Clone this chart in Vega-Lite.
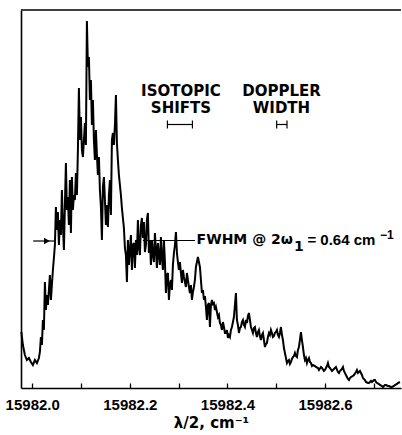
{
  "$schema": "https://vega.github.io/schema/vega-lite/v6.json",
  "width": 380,
  "height": 378,
  "autosize": "none",
  "padding": {"left": 21, "top": 10, "right": 1, "bottom": 47},
  "background": "white",
  "config": {"view": {"stroke": null}},
  "datasets": {
    "spectrum": [
      {"nu":15981.97781,"I":56},{"nu":15981.98088,"I":43},{"nu":15981.98498,"I":33},{"nu":15981.98908,"I":28},{"nu":15981.99318,"I":30},{"nu":15981.99728,"I":26},
      {"nu":15982.00137,"I":23},{"nu":15982.00547,"I":28},{"nu":15982.00957,"I":25},{"nu":15982.01367,"I":30},{"nu":15982.01572,"I":36},{"nu":15982.01777,"I":51},
      {"nu":15982.01982,"I":43},{"nu":15982.02187,"I":68},{"nu":15982.02392,"I":58},{"nu":15982.02597,"I":106},{"nu":15982.02802,"I":78},{"nu":15982.03006,"I":93},
      {"nu":15982.03211,"I":83},{"nu":15982.03416,"I":98},{"nu":15982.03621,"I":113},{"nu":15982.03826,"I":88},{"nu":15982.04031,"I":103},{"nu":15982.04236,"I":118},
      {"nu":15982.04441,"I":130},{"nu":15982.04646,"I":143},{"nu":15982.04851,"I":181},{"nu":15982.05055,"I":158},{"nu":15982.0526,"I":176},{"nu":15982.05465,"I":143},
      {"nu":15982.0567,"I":168},{"nu":15982.05875,"I":153},{"nu":15982.0608,"I":198},{"nu":15982.06285,"I":163},{"nu":15982.0649,"I":138},{"nu":15982.06695,"I":183},
      {"nu":15982.069,"I":225},{"nu":15982.07104,"I":178},{"nu":15982.07309,"I":191},{"nu":15982.07514,"I":163},{"nu":15982.07719,"I":208},{"nu":15982.07924,"I":155},
      {"nu":15982.08129,"I":211},{"nu":15982.08334,"I":178},{"nu":15982.08539,"I":193},{"nu":15982.08744,"I":188},{"nu":15982.08949,"I":215},{"nu":15982.09153,"I":193},
      {"nu":15982.09358,"I":238},{"nu":15982.09563,"I":300},{"nu":15982.09768,"I":248},{"nu":15982.09973,"I":271},{"nu":15982.10178,"I":238},{"nu":15982.10383,"I":231},
      {"nu":15982.10588,"I":248},{"nu":15982.10793,"I":265},{"nu":15982.10998,"I":243},{"nu":15982.11202,"I":367},{"nu":15982.11407,"I":321},{"nu":15982.11612,"I":331},
      {"nu":15982.11817,"I":288},{"nu":15982.12022,"I":308},{"nu":15982.12227,"I":263},{"nu":15982.12432,"I":288},{"nu":15982.12637,"I":248},{"nu":15982.12842,"I":228},
      {"nu":15982.13047,"I":258},{"nu":15982.13251,"I":233},{"nu":15982.13456,"I":213},{"nu":15982.13661,"I":231},{"nu":15982.13866,"I":198},{"nu":15982.14071,"I":181},
      {"nu":15982.14276,"I":148},{"nu":15982.14481,"I":201},{"nu":15982.14686,"I":211},{"nu":15982.14891,"I":188},{"nu":15982.15096,"I":163},{"nu":15982.153,"I":183},
      {"nu":15982.15505,"I":161},{"nu":15982.1571,"I":193},{"nu":15982.15915,"I":208},{"nu":15982.1612,"I":173},{"nu":15982.16325,"I":248},{"nu":15982.1653,"I":255},
      {"nu":15982.16735,"I":243},{"nu":15982.1694,"I":263},{"nu":15982.17145,"I":293},{"nu":15982.17349,"I":245},{"nu":15982.17554,"I":228},{"nu":15982.17759,"I":213},
      {"nu":15982.17964,"I":203},{"nu":15982.18169,"I":193},{"nu":15982.18374,"I":180},{"nu":15982.18579,"I":170},{"nu":15982.18784,"I":160},{"nu":15982.18989,"I":140},
      {"nu":15982.19194,"I":133},{"nu":15982.19398,"I":106},{"nu":15982.19603,"I":148},{"nu":15982.19808,"I":123},{"nu":15982.20013,"I":138},{"nu":15982.20218,"I":153},
      {"nu":15982.20423,"I":118},{"nu":15982.20628,"I":143},{"nu":15982.20833,"I":145},{"nu":15982.21038,"I":120},{"nu":15982.21243,"I":148},{"nu":15982.21447,"I":133},
      {"nu":15982.21652,"I":168},{"nu":15982.21857,"I":140},{"nu":15982.22062,"I":133},{"nu":15982.22267,"I":163},{"nu":15982.22472,"I":170},{"nu":15982.22677,"I":150},
      {"nu":15982.22882,"I":166},{"nu":15982.23087,"I":136},{"nu":15982.23292,"I":143},{"nu":15982.23496,"I":168},{"nu":15982.23701,"I":175},{"nu":15982.23906,"I":135},
      {"nu":15982.24111,"I":148},{"nu":15982.24316,"I":123},{"nu":15982.24521,"I":148},{"nu":15982.24726,"I":133},{"nu":15982.24931,"I":126},{"nu":15982.25136,"I":155},
      {"nu":15982.25341,"I":138},{"nu":15982.25545,"I":120},{"nu":15982.2575,"I":145},{"nu":15982.25955,"I":133},{"nu":15982.2616,"I":123},{"nu":15982.26365,"I":151},
      {"nu":15982.2657,"I":130},{"nu":15982.26775,"I":118},{"nu":15982.2698,"I":148},{"nu":15982.27185,"I":126},{"nu":15982.2739,"I":95},{"nu":15982.27594,"I":113},
      {"nu":15982.27799,"I":115},{"nu":15982.28004,"I":88},{"nu":15982.28209,"I":103},{"nu":15982.28414,"I":108},{"nu":15982.28619,"I":98},{"nu":15982.28824,"I":123},
      {"nu":15982.29029,"I":135},{"nu":15982.29234,"I":143},{"nu":15982.29439,"I":156},{"nu":15982.29643,"I":135},{"nu":15982.29848,"I":126},{"nu":15982.30053,"I":118},
      {"nu":15982.30258,"I":126},{"nu":15982.30463,"I":115},{"nu":15982.30668,"I":105},{"nu":15982.30873,"I":118},{"nu":15982.31078,"I":111},{"nu":15982.31283,"I":106},
      {"nu":15982.31488,"I":101},{"nu":15982.31692,"I":115},{"nu":15982.31897,"I":108},{"nu":15982.32102,"I":101},{"nu":15982.32307,"I":95},{"nu":15982.32512,"I":103},
      {"nu":15982.32717,"I":88},{"nu":15982.32922,"I":96},{"nu":15982.33127,"I":101},{"nu":15982.33332,"I":108},{"nu":15982.33537,"I":121},{"nu":15982.33741,"I":126},
      {"nu":15982.33946,"I":131},{"nu":15982.34151,"I":126},{"nu":15982.34356,"I":121},{"nu":15982.34561,"I":108},{"nu":15982.34766,"I":95},{"nu":15982.34971,"I":98},
      {"nu":15982.35176,"I":88},{"nu":15982.35381,"I":92},{"nu":15982.35586,"I":81},{"nu":15982.3579,"I":68},{"nu":15982.35995,"I":83},{"nu":15982.362,"I":85},
      {"nu":15982.36405,"I":61},{"nu":15982.3661,"I":83},{"nu":15982.36815,"I":88},{"nu":15982.3702,"I":84},{"nu":15982.37225,"I":85},{"nu":15982.3743,"I":78},
      {"nu":15982.37635,"I":81},{"nu":15982.37839,"I":76},{"nu":15982.38044,"I":71},{"nu":15982.38249,"I":73},{"nu":15982.38454,"I":65},{"nu":15982.38659,"I":63},
      {"nu":15982.38864,"I":58},{"nu":15982.39069,"I":66},{"nu":15982.39274,"I":61},{"nu":15982.39479,"I":55},{"nu":15982.39684,"I":55},{"nu":15982.39888,"I":58},
      {"nu":15982.40093,"I":50},{"nu":15982.40298,"I":53},{"nu":15982.40503,"I":51},{"nu":15982.40708,"I":58},{"nu":15982.40913,"I":61},{"nu":15982.41118,"I":66},
      {"nu":15982.41323,"I":71},{"nu":15982.41528,"I":83},{"nu":15982.41733,"I":95},{"nu":15982.41937,"I":68},{"nu":15982.42142,"I":63},{"nu":15982.42347,"I":55},
      {"nu":15982.42552,"I":60},{"nu":15982.42757,"I":61},{"nu":15982.42962,"I":66},{"nu":15982.43167,"I":68},{"nu":15982.43372,"I":63},{"nu":15982.43577,"I":61},
      {"nu":15982.43782,"I":68},{"nu":15982.43986,"I":65},{"nu":15982.44191,"I":72},{"nu":15982.44396,"I":75},{"nu":15982.44601,"I":68},{"nu":15982.44806,"I":61},
      {"nu":15982.45011,"I":58},{"nu":15982.45216,"I":55},{"nu":15982.45421,"I":60},{"nu":15982.45626,"I":61},{"nu":15982.45831,"I":55},{"nu":15982.46035,"I":51},
      {"nu":15982.4624,"I":56},{"nu":15982.46445,"I":58},{"nu":15982.4665,"I":52},{"nu":15982.46855,"I":48},{"nu":15982.4706,"I":53},{"nu":15982.47265,"I":55},
      {"nu":15982.4747,"I":48},{"nu":15982.47675,"I":41},{"nu":15982.4788,"I":44},{"nu":15982.48084,"I":45},{"nu":15982.48289,"I":51},{"nu":15982.48494,"I":55},
      {"nu":15982.48699,"I":53},{"nu":15982.48904,"I":58},{"nu":15982.49109,"I":55},{"nu":15982.49314,"I":51},{"nu":15982.49519,"I":52},{"nu":15982.49724,"I":55},
      {"nu":15982.49929,"I":56},{"nu":15982.50133,"I":58},{"nu":15982.50338,"I":53},{"nu":15982.50543,"I":51},{"nu":15982.50748,"I":55},{"nu":15982.50953,"I":61},
      {"nu":15982.51158,"I":53},{"nu":15982.51363,"I":48},{"nu":15982.51568,"I":40},{"nu":15982.51773,"I":35},{"nu":15982.51978,"I":30},{"nu":15982.52182,"I":25},
      {"nu":15982.52387,"I":27},{"nu":15982.52592,"I":28},{"nu":15982.52797,"I":24},{"nu":15982.53002,"I":26},{"nu":15982.53207,"I":29},{"nu":15982.53412,"I":31},
      {"nu":15982.53617,"I":32},{"nu":15982.53822,"I":35},{"nu":15982.54027,"I":32},{"nu":15982.54231,"I":31},{"nu":15982.54436,"I":38},{"nu":15982.54641,"I":41},
      {"nu":15982.54846,"I":48},{"nu":15982.55051,"I":56},{"nu":15982.55256,"I":48},{"nu":15982.55461,"I":41},{"nu":15982.55666,"I":33},{"nu":15982.55871,"I":28},
      {"nu":15982.56076,"I":30},{"nu":15982.5628,"I":25},{"nu":15982.56485,"I":28},{"nu":15982.5669,"I":30},{"nu":15982.56895,"I":26},{"nu":15982.571,"I":25},
      {"nu":15982.57305,"I":22},{"nu":15982.5751,"I":23},{"nu":15982.5792,"I":22},{"nu":15982.58125,"I":21},{"nu":15982.58534,"I":20},{"nu":15982.58739,"I":18},
      {"nu":15982.59149,"I":21},{"nu":15982.59354,"I":20},{"nu":15982.59764,"I":17},{"nu":15982.59969,"I":18},{"nu":15982.60379,"I":22},{"nu":15982.60583,"I":25},
      {"nu":15982.60788,"I":21},{"nu":15982.60993,"I":20},{"nu":15982.61403,"I":17},{"nu":15982.61608,"I":18},{"nu":15982.62018,"I":20},{"nu":15982.62223,"I":21},
      {"nu":15982.62632,"I":16},{"nu":15982.62837,"I":15},{"nu":15982.63042,"I":17},{"nu":15982.63247,"I":18},{"nu":15982.63452,"I":19},{"nu":15982.63657,"I":21},
      {"nu":15982.63862,"I":17},{"nu":15982.64067,"I":15},{"nu":15982.64272,"I":13},{"nu":15982.64476,"I":11},{"nu":15982.64681,"I":9},{"nu":15982.64886,"I":8},
      {"nu":15982.65091,"I":10},{"nu":15982.65296,"I":11},{"nu":15982.65706,"I":12},{"nu":15982.65911,"I":13},{"nu":15982.66321,"I":16},{"nu":15982.66525,"I":18},
      {"nu":15982.6673,"I":15},{"nu":15982.6714,"I":17},{"nu":15982.6755,"I":13},{"nu":15982.67755,"I":10},{"nu":15982.68165,"I":8},{"nu":15982.6837,"I":6},
      {"nu":15982.68779,"I":5},{"nu":15982.68984,"I":5},{"nu":15982.69394,"I":7},{"nu":15982.69599,"I":6},{"nu":15982.70009,"I":8},{"nu":15982.70214,"I":8},
      {"nu":15982.70419,"I":6},{"nu":15982.70623,"I":5},{"nu":15982.71033,"I":4},{"nu":15982.71238,"I":3},{"nu":15982.71648,"I":2},{"nu":15982.71853,"I":1},
      {"nu":15982.72263,"I":3},{"nu":15982.72468,"I":3},{"nu":15982.72877,"I":2},{"nu":15982.73082,"I":2},{"nu":15982.73492,"I":1},{"nu":15982.73697,"I":1},
      {"nu":15982.74107,"I":2},{"nu":15982.74312,"I":3},{"nu":15982.74722,"I":4},{"nu":15982.74926,"I":5},{"nu":15982.75336,"I":6}
    ],
    "centerLabels": [
      {"t":"ISOTOPIC","nu":15982.3047,"I":297},
      {"t":"SHIFTS","nu":15982.3047,"I":280.5},
      {"t":"DOPPLER","nu":15982.5106,"I":297},
      {"t":"WIDTH","nu":15982.5106,"I":280.5}
    ],
    "fwhmDejavu": [
      {"t":"FWHM @ 2ω","nu":15982.3368,"I":148,"s":14},
      {"t":"1","nu":15982.5363,"I":141,"s":14}
    ],
    "fwhmLib": [
      {"t":"= 0.64 cm","nu":15982.5638,"I":148,"s":15},
      {"t":"−1","nu":15982.7124,"I":153,"s":12}
    ],
    "hrules": [
      {"nu":15982.277,"nu2":15982.3282,"I":263.5},
      {"nu":15982.5008,"nu2":15982.5219,"I":263.5},
      {"nu":15982.2268,"nu2":15982.3333,"I":147.5},
      {"nu":15982.002,"nu2":15982.0465,"I":147}
    ],
    "caps": [
      {"nu":15982.277,"I":259.5,"I2":267.5},
      {"nu":15982.3282,"I":259.5,"I2":267.5},
      {"nu":15982.5008,"I":259.5,"I2":267.5},
      {"nu":15982.5219,"I":259.5,"I2":267.5}
    ],
    "arrowHead": [
      {"nu":15982.0301,"I":147}
    ]
  },
  "layer": [
    {
      "data": {"name": "spectrum"},
      "mark": {"type": "line", "color": "black", "strokeWidth": 2.0, "interpolate": "linear"},
      "encoding": {
        "x": {
          "field": "nu", "type": "quantitative", "title": "λ/2, cm⁻¹",
          "scale": {"domain": [15981.977, 15982.7555], "nice": false, "zero": false},
          "axis": {
            "values": [15982.0,15982.05,15982.1,15982.15,15982.2,15982.25,15982.3,15982.35,15982.4,15982.45,15982.5,15982.55,15982.6,15982.65,15982.7],
            "labelExpr": "round(datum.value*20) % 4 == 0 ? format(datum.value, '.1f') : ''",
            "grid": false,
            "domainColor": "black", "domainWidth": 1.6,
            "tickColor": "black", "tickWidth": 1.3, "tickSize": -5,
            "labelFont": "Liberation Sans", "labelFontSize": 15, "labelFontWeight": "bold", "labelColor": "black",
            "labelPadding": 14, "labelFlush": false, "labelOverlap": false,
            "titleFont": "DejaVu Sans", "titleFontSize": 15, "titleFontWeight": "bold", "titleColor": "black",
            "titlePadding": 3
          }
        },
        "y": {
          "field": "I", "type": "quantitative", "title": null,
          "scale": {"domain": [0, 378], "nice": false, "zero": false},
          "axis": {"grid": false, "ticks": false, "labels": false, "domainColor": "black", "domainWidth": 1.6}
        }
      }
    },
    {
      "data": {"values": [{}]},
      "mark": {"type": "rule", "color": "black", "strokeWidth": 1.6},
      "encoding": {"y": {"datum": 378, "type": "quantitative", "title": null}}
    },
    {
      "data": {"name": "centerLabels"},
      "mark": {"type": "text", "font": "DejaVu Sans", "fontSize": 15, "fontWeight": "bold", "color": "black", "align": "center", "baseline": "middle"},
      "encoding": {
        "x": {"field": "nu", "type": "quantitative", "title": "λ/2, cm⁻¹"},
        "y": {"field": "I", "type": "quantitative", "title": null},
        "text": {"field": "t"}
      }
    },
    {
      "data": {"name": "fwhmDejavu"},
      "mark": {"type": "text", "font": "DejaVu Sans", "fontWeight": "bold", "color": "black", "align": "left", "baseline": "middle"},
      "encoding": {
        "x": {"field": "nu", "type": "quantitative", "title": "λ/2, cm⁻¹"},
        "y": {"field": "I", "type": "quantitative", "title": null},
        "size": {"field": "s", "type": "quantitative", "scale": null, "legend": null},
        "text": {"field": "t"}
      }
    },
    {
      "data": {"name": "fwhmLib"},
      "mark": {"type": "text", "font": "Liberation Sans", "fontWeight": "bold", "color": "black", "align": "left", "baseline": "middle"},
      "encoding": {
        "x": {"field": "nu", "type": "quantitative", "title": "λ/2, cm⁻¹"},
        "y": {"field": "I", "type": "quantitative", "title": null},
        "size": {"field": "s", "type": "quantitative", "scale": null, "legend": null},
        "text": {"field": "t"}
      }
    },
    {
      "data": {"name": "hrules"},
      "mark": {"type": "rule", "color": "black", "strokeWidth": 1.2},
      "encoding": {
        "x": {"field": "nu", "type": "quantitative", "title": "λ/2, cm⁻¹"},
        "x2": {"field": "nu2"},
        "y": {"field": "I", "type": "quantitative", "title": null}
      }
    },
    {
      "data": {"name": "caps"},
      "mark": {"type": "rule", "color": "black", "strokeWidth": 1.2},
      "encoding": {
        "x": {"field": "nu", "type": "quantitative", "title": "λ/2, cm⁻¹"},
        "y": {"field": "I", "type": "quantitative", "title": null},
        "y2": {"field": "I2"}
      }
    },
    {
      "data": {"name": "arrowHead"},
      "mark": {"type": "point", "shape": "triangle-right", "filled": true, "color": "black", "size": 45, "opacity": 1},
      "encoding": {
        "x": {"field": "nu", "type": "quantitative", "title": "λ/2, cm⁻¹"},
        "y": {"field": "I", "type": "quantitative", "title": null}
      }
    }
  ]
}
